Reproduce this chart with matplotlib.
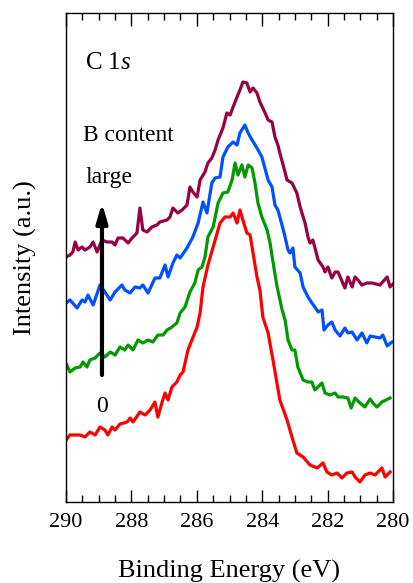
# C 1s XPS spectra for increasing B content (offset for clarity)
import matplotlib
matplotlib.use('Agg')
import matplotlib.pyplot as plt
import numpy as np

plt.rcParams['font.family'] = 'Liberation Serif'
plt.rcParams['mathtext.fontset'] = 'custom'
plt.rcParams['mathtext.rm'] = 'Liberation Serif'
plt.rcParams['mathtext.it'] = 'Liberation Serif:italic'

# binding energies (eV) and intensities (a.u.)
energy_0 = [290.00, 289.88, 289.57, 289.42, 289.27, 289.11, 288.96, 288.81, 288.72, 288.59,
            288.50, 288.35, 288.13, 288.04, 287.95, 287.74, 287.58, 287.43, 287.28, 287.19,
            287.06, 286.97, 286.88, 286.76, 286.61, 286.51, 286.42, 286.36, 286.27, 286.15,
            285.99, 285.90, 285.81, 285.66, 285.50, 285.29, 285.14, 284.98, 284.89, 284.77,
            284.68, 284.59, 284.47, 284.37, 284.16, 284.07, 283.98, 283.82, 283.67, 283.46,
            283.24, 283.09, 282.94, 282.75, 282.54, 282.32, 282.14, 282.02, 281.87, 281.71,
            281.56, 281.41, 281.25, 281.16, 281.01, 280.86, 280.70, 280.55, 280.34, 280.24,
            280.09]
intens_0 = [62, 67, 67, 65, 70, 67, 75, 72, 67, 75,
            72, 78, 80, 84, 80, 90, 87, 92, 100, 85,
            100, 109, 102, 115, 120, 127, 130, 139, 152, 162,
            175, 189, 215, 237, 255, 279, 285, 285, 289, 279,
            292, 282, 269, 267, 225, 212, 185, 169, 142, 102,
            82, 65, 49, 45, 37, 34, 39, 30, 27, 29,
            24, 29, 30, 25, 20, 27, 29, 27, 34, 25,
            30]

energy_1 = [290.00, 289.88, 289.72, 289.57, 289.48, 289.36, 289.27, 289.11, 288.96, 288.81,
            288.65, 288.50, 288.35, 288.20, 288.10, 287.95, 287.80, 287.65, 287.49, 287.34,
            287.19, 287.03, 286.91, 286.76, 286.61, 286.51, 286.36, 286.21, 286.06, 285.96,
            285.84, 285.75, 285.66, 285.50, 285.35, 285.20, 285.05, 284.92, 284.83, 284.74,
            284.62, 284.53, 284.43, 284.31, 284.22, 284.13, 284.01, 283.85, 283.76, 283.67,
            283.55, 283.39, 283.30, 283.21, 283.09, 283.00, 282.91, 282.75, 282.60, 282.48,
            282.39, 282.17, 282.08, 281.93, 281.77, 281.68, 281.53, 281.38, 281.28, 281.16,
            281.01, 280.86, 280.70, 280.61, 280.49, 280.34, 280.09]
intens_1 = [139, 130, 134, 135, 140, 135, 142, 144, 149, 145,
            150, 147, 155, 152, 157, 152, 162, 159, 162, 160,
            167, 167, 172, 175, 179, 189, 195, 210, 219, 232,
            235, 245, 265, 275, 299, 309, 310, 322, 339, 327,
            337, 325, 337, 334, 319, 299, 285, 272, 259, 240,
            216, 192, 182, 162, 152, 152, 135, 122, 120, 120,
            112, 119, 109, 107, 109, 105, 105, 104, 94, 104,
            99, 95, 103, 99, 95, 100, 104]

energy_2 = [290.00, 289.88, 289.66, 289.51, 289.42, 289.33, 289.17, 288.96, 288.81, 288.65,
            288.50, 288.29, 288.20, 288.04, 287.89, 287.74, 287.65, 287.49, 287.28, 287.13,
            286.97, 286.88, 286.73, 286.61, 286.51, 286.30, 286.12, 285.96, 285.81, 285.69,
            285.54, 285.44, 285.29, 285.20, 285.05, 284.89, 284.77, 284.68, 284.53, 284.43,
            284.31, 284.16, 284.01, 283.82, 283.70, 283.61, 283.52, 283.46, 283.33, 283.21,
            283.15, 283.06, 283.00, 282.84, 282.75, 282.60, 282.48, 282.39, 282.29, 282.17,
            282.11, 281.99, 281.87, 281.77, 281.62, 281.47, 281.38, 281.25, 281.10, 280.95,
            280.80, 280.70, 280.55, 280.40, 280.31, 280.18, 280.03]
intens_2 = [199, 202, 194, 202, 200, 207, 197, 217, 210, 202,
            210, 217, 212, 209, 215, 214, 217, 209, 224, 224,
            237, 225, 239, 247, 244, 254, 265, 279, 300, 289,
            319, 324, 325, 345, 355, 360, 357, 369, 377, 369,
            362, 354, 345, 322, 315, 297, 292, 285, 269, 252,
            249, 254, 235, 229, 215, 205, 199, 195, 190, 192,
            172, 177, 180, 172, 166, 174, 169, 170, 162, 169,
            159, 166, 165, 164, 167, 156, 160]

energy_3 = [290.00, 289.88, 289.79, 289.72, 289.63, 289.51, 289.42, 289.27, 289.17, 289.05,
            288.90, 288.75, 288.59, 288.50, 288.41, 288.26, 288.10, 287.98, 287.83, 287.74,
            287.65, 287.52, 287.37, 287.22, 287.13, 286.91, 286.82, 286.73, 286.58, 286.45,
            286.30, 286.21, 286.12, 285.99, 285.90, 285.75, 285.66, 285.54, 285.44, 285.35,
            285.20, 285.08, 284.98, 284.89, 284.77, 284.68, 284.59, 284.47, 284.37, 284.28,
            284.16, 284.07, 283.91, 283.82, 283.70, 283.61, 283.52, 283.46, 283.36, 283.24,
            283.09, 282.94, 282.84, 282.69, 282.60, 282.54, 282.45, 282.29, 282.14, 282.08,
            281.99, 281.87, 281.77, 281.68, 281.47, 281.38, 281.25, 281.16, 281.07, 280.95,
            280.80, 280.64, 280.40, 280.18, 280.09, 280.00]
intens_3 = [245, 247, 250, 260, 252, 255, 252, 255, 260, 250,
            262, 260, 260, 257, 264, 264, 259, 264, 269, 294,
            272, 270, 275, 277, 280, 282, 285, 294, 289, 292,
            297, 315, 310, 305, 322, 330, 339, 344, 352, 362,
            374, 389, 387, 395, 405, 412, 420, 419, 410, 414,
            409, 400, 389, 382, 380, 365, 357, 349, 337, 322,
            319, 309, 295, 279, 265, 259, 262, 242, 235, 230,
            235, 224, 230, 230, 214, 225, 215, 225, 222, 217,
            219, 219, 217, 225, 215, 218]

spectra = [(energy_0, intens_0, '#ff0000'),
           (energy_1, intens_1, '#009a00'),
           (energy_2, intens_2, '#0050ff'),
           (energy_3, intens_3, '#990044')]

fig = plt.figure(figsize=(4.14, 5.83), dpi=100)
ax = fig.add_axes([66/414, 81/583, 327/414, 489/583])

for e, y, c in spectra:
    ax.plot(e, y, color=c, lw=2.3, solid_joinstyle='round')

ax.set_xlim(290, 280)
ax.set_ylim(0, 489)
ax.set_xticks(np.arange(290, 279, -2))
ax.set_xticks(np.arange(290, 279.9, -0.5), minor=True)
ax.set_yticks([])
ax.tick_params(axis='x', which='both', direction='in', top=True, labelsize=16, pad=8)
ax.tick_params(axis='x', which='major', length=9, width=1)
ax.tick_params(axis='x', which='minor', length=5, width=1)
for sp in ax.spines.values():
    sp.set_linewidth(1)

ax.set_xlabel('Binding Energy (eV)', fontsize=19, labelpad=20)
ax.set_ylabel('Intensity (a.u.)', fontsize=19, labelpad=21)

# annotations
ax.text(0.058, 0.898, r'C 1$\mathit{s}$', transform=ax.transAxes, fontsize=18, va='center')
ax.text(0.052, 0.750, 'B content', transform=ax.transAxes, fontsize=17, va='center')
ax.text(0.061, 0.663, 'large', transform=ax.transAxes, fontsize=17, va='center')
ax.text(0.110, 0.196, '0', transform=ax.transAxes, fontsize=17, va='center', ha='center')
ax.annotate('', xy=(288.9, 299), xytext=(288.9, 127),
            arrowprops=dict(arrowstyle='-|>,head_length=0.75,head_width=0.22',
                            mutation_scale=15, lw=3, color='k',
                            shrinkA=0, shrinkB=0))

plt.savefig('out.png', dpi=100)
